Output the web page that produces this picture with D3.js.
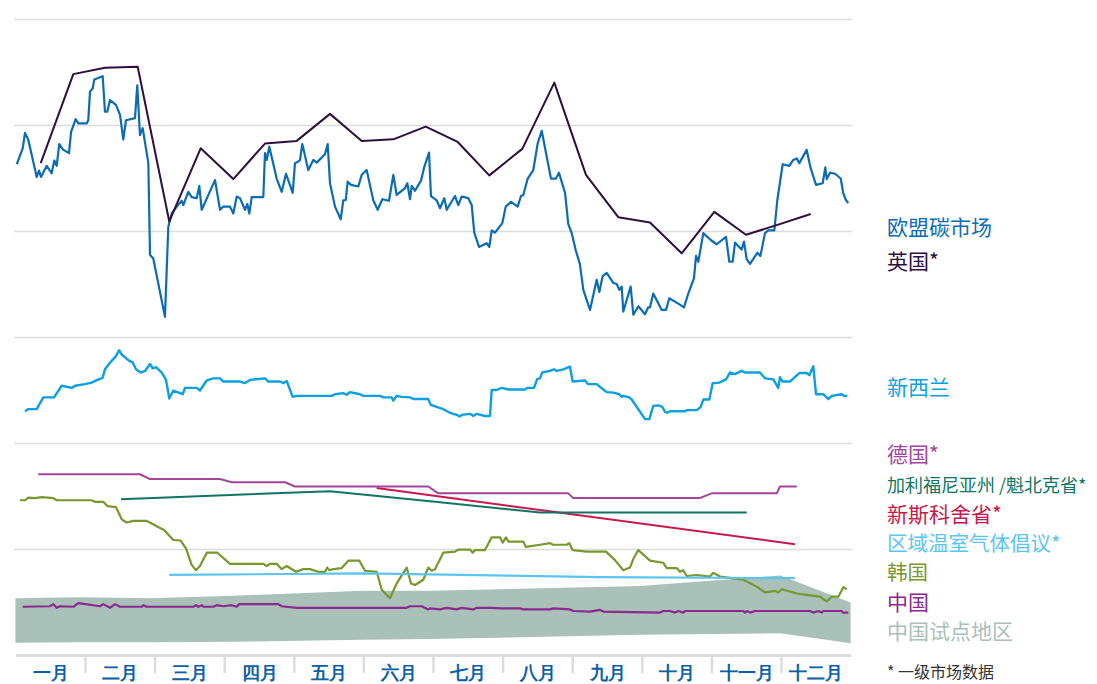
<!DOCTYPE html>
<html>
<head>
<meta charset="utf-8">
<script src="https://cdn.jsdelivr.net/npm/d3@7"></script>
<style>
  body { margin: 0; background: #fff; }
  svg { display: block; font-family: "Noto Sans CJK SC", "Noto Sans", sans-serif; }
  .grid line { stroke: #dcdcdc; stroke-width: 1.5; }
  .grid path { display: none; }
  .xaxis path { stroke: #dcdcdc; stroke-width: 3; }
  .xaxis line { stroke: #dcdcdc; stroke-width: 2.5; }
  .months path, .months line { display: none; }
  .months text { fill: #0b5fa5; font-size: 18px; font-weight: bold; }
</style>
</head>
<body>
<script>
// months on x as fractional month index (0 = start of Jan, 12 = end of Dec)
var monthLabels = ["一月","二月","三月","四月","五月","六月","七月","八月","九月","十月","十一月","十二月"];
var gridValues = [20, 40, 60, 80, 100, 120];

var euETS = [[0.02,92.6],[0.105,95.6],[0.138,98.5],[0.185,97.2],[0.306,90.2],[0.339,91.4],[0.368,90.2],[0.45,92.3],[0.52,90.9],[0.56,93.3],[0.593,92.3],[0.63,96.4],[0.68,95.4],[0.77,94.7],[0.80,98.7],[0.866,101.1],[0.904,100.3],[1.024,100.3],[1.047,100.9],[1.072,106.3],[1.11,106.9],[1.134,108.6],[1.215,109.0],[1.254,109.2],[1.287,102.5],[1.32,102.5],[1.359,104.7],[1.445,103.8],[1.503,101.9],[1.55,97.3],[1.589,100.9],[1.718,101.3],[1.751,107.5],[1.79,98.1],[1.829,99.4],[1.91,92.8],[1.934,75.5],[1.981,74.8],[2.149,63.8],[2.197,80.8],[2.246,83.3],[2.318,84.6],[2.389,85.7],[2.412,84.9],[2.484,87.4],[2.533,86.4],[2.605,86.2],[2.642,88.5],[2.677,84.0],[2.868,89.6],[2.94,84.0],[2.987,84.6],[3.083,84.6],[3.131,83.3],[3.18,86.5],[3.227,86.2],[3.299,84.0],[3.332,85.1],[3.361,83.3],[3.395,86.4],[3.562,86.4],[3.586,94.7],[3.611,93.4],[3.648,95.9],[3.754,89.9],[3.826,87.4],[3.888,90.8],[3.984,87.2],[4.017,92.8],[4.065,93.1],[4.089,93.4],[4.122,96.4],[4.208,91.5],[4.28,93.4],[4.329,92.9],[4.448,94.5],[4.487,96.4],[4.52,89.0],[4.592,84.6],[4.674,82.2],[4.711,85.8],[4.746,85.8],[4.774,89.3],[4.822,88.7],[4.927,88.4],[4.976,90.6],[5.047,91.5],[5.142,85.8],[5.205,84.0],[5.272,86.0],[5.368,85.7],[5.43,90.6],[5.478,86.8],[5.598,88.1],[5.631,89.0],[5.67,86.0],[5.694,88.5],[5.741,87.6],[5.828,89.5],[5.875,92.1],[5.943,94.8],[5.971,86.6],[6.053,85.8],[6.101,84.3],[6.162,86.2],[6.197,84.0],[6.316,86.6],[6.364,84.9],[6.412,86.5],[6.507,86.2],[6.556,84.9],[6.593,79.7],[6.661,77.0],[6.772,77.7],[6.809,77.0],[6.843,80.1],[6.891,79.7],[6.996,81.5],[7.045,84.6],[7.121,85.5],[7.217,84.6],[7.264,86.6],[7.297,86.8],[7.361,89.9],[7.441,91.5],[7.504,96.5],[7.562,98.9],[7.634,94.0],[7.695,89.9],[7.767,89.9],[7.81,91.0],[7.897,87.2],[7.944,81.3],[7.993,79.6],[8.05,76.4],[8.11,73.8],[8.16,68.9],[8.256,65.1],[8.352,70.8],[8.39,68.5],[8.438,71.5],[8.496,72.1],[8.59,70.2],[8.639,70.0],[8.677,68.9],[8.711,69.5],[8.734,64.8],[8.84,69.5],[8.878,64.2],[8.95,65.8],[9.046,64.3],[9.093,65.6],[9.118,65.6],[9.165,68.2],[9.286,65.1],[9.348,65.1],[9.395,67.3],[9.524,66.3],[9.606,65.6],[9.668,68.2],[9.75,71.1],[9.779,75.3],[9.812,74.2],[9.884,79.6],[9.99,78.3],[10.076,77.5],[10.21,78.9],[10.257,74.2],[10.306,74.2],[10.339,77.8],[10.435,76.5],[10.468,78.0],[10.507,74.7],[10.555,73.8],[10.66,75.9],[10.704,75.3],[10.77,79.6],[10.818,80.1],[10.904,80.1],[10.947,85.8],[11.024,92.6],[11.119,92.3],[11.177,93.4],[11.226,93.7],[11.263,92.8],[11.369,95.3],[11.427,91.8],[11.503,88.7],[11.599,89.0],[11.637,92.0],[11.657,89.8],[11.704,91.0],[11.776,90.8],[11.858,89.9],[11.895,87.1],[11.934,85.8],[11.967,85.3]];

var ukETS = [[0.364,92.8],[0.832,109.6],[1.287,110.8],[1.757,111.0],[2.211,81.8],[2.662,95.6],[3.131,89.8],[3.586,96.5],[4.042,97.0],[4.52,102.1],[4.976,97.0],[5.43,97.3],[5.895,99.7],[6.355,96.8],[6.809,90.5],[7.283,95.5],[7.743,108.0],[8.198,90.6],[8.662,82.6],[9.118,81.6],[9.573,75.8],[10.042,83.6],[10.497,79.3],[10.96,81.2],[11.427,83.2]];

var newZealand = [[0.138,46.0],[0.185,46.4],[0.306,46.4],[0.401,48.6],[0.555,48.6],[0.665,50.8],[0.809,50.4],[0.856,50.8],[1.0,51.1],[1.096,51.4],[1.177,51.9],[1.254,52.3],[1.287,53.9],[1.349,55.0],[1.445,56.4],[1.489,57.5],[1.527,56.7],[1.636,55.5],[1.685,55.2],[1.733,53.9],[1.8,53.3],[1.862,53.6],[1.934,54.9],[1.973,54.1],[2.02,54.3],[2.102,53.3],[2.164,51.9],[2.211,48.4],[2.269,49.9],[2.404,49.2],[2.437,50.4],[2.605,50.4],[2.652,49.9],[2.749,51.8],[2.843,52.2],[2.94,52.2],[2.987,51.6],[3.227,51.6],[3.299,51.3],[3.371,51.9],[3.586,52.2],[3.634,51.6],[3.802,51.6],[3.849,51.3],[3.898,51.7],[3.984,48.7],[4.042,48.9],[4.545,48.9],[4.592,49.2],[4.711,49.4],[4.76,49.1],[4.807,49.6],[4.951,49.2],[4.999,48.9],[5.239,48.9],[5.286,48.6],[5.407,48.6],[5.43,48.0],[5.478,48.9],[5.55,48.7],[5.67,48.6],[5.717,48.3],[5.932,48.3],[5.967,47.2],[6.053,46.8],[6.125,46.5],[6.244,45.7],[6.34,45.3],[6.388,45.0],[6.412,45.3],[6.532,45.5],[6.579,45.1],[6.628,45.5],[6.747,45.1],[6.819,45.1],[6.843,50.0],[6.915,50.0],[6.987,50.4],[7.082,50.1],[7.322,50.1],[7.355,50.4],[7.451,50.4],[7.499,52.1],[7.537,52.2],[7.57,53.3],[7.681,53.6],[7.739,53.9],[7.777,53.6],[7.872,53.9],[7.968,54.4],[8.007,51.6],[8.184,51.8],[8.231,51.1],[8.352,51.1],[8.447,50.1],[8.496,49.6],[8.59,49.5],[8.677,49.2],[8.711,48.7],[8.734,48.9],[8.82,48.6],[8.855,48.2],[9.046,44.5],[9.108,44.5],[9.165,47.0],[9.237,47.1],[9.295,46.8],[9.333,45.9],[9.366,45.7],[9.405,46.0],[9.621,46.0],[9.645,46.2],[9.789,46.2],[9.846,46.8],[9.884,48.2],[9.97,48.2],[10.019,51.3],[10.052,51.3],[10.113,51.4],[10.21,52.0],[10.267,53.3],[10.339,53.0],[10.435,53.6],[10.483,53.3],[10.698,53.3],[10.77,52.2],[10.89,52.0],[10.961,50.4],[10.986,52.4],[11.024,51.6],[11.129,51.6],[11.187,52.3],[11.263,53.2],[11.369,53.2],[11.407,52.8],[11.464,54.5],[11.503,49.2],[11.608,49.2],[11.68,48.3],[11.729,48.9],[11.872,49.2],[11.905,48.9],[11.953,48.9]];

var germany = [[0.329,34.1],[1.79,34.1],[1.934,33.2],[2.94,33.2],[3.108,32.6],[3.874,32.6],[4.017,31.8],[5.932,31.8],[6.076,30.5],[7.944,30.5],[8.016,29.6],[9.83,29.6],[10.004,30.5],[10.938,30.5],[10.986,31.8],[11.226,31.8]];

var californiaQuebec = [[1.517,29.4],[4.52,30.9],[6.029,28.9],[7.537,26.9],[10.507,26.9]];

var novaScotia = [[5.191,31.5],[11.2,20.9]];

var rggi = [[2.211,15.1],[4.994,15.4],[8.39,14.7],[11.2,14.5]];

var korea = [[0.066,29.2],[0.138,29.2],[0.185,29.7],[0.282,29.6],[0.378,29.8],[0.545,29.6],[0.593,29.2],[1.096,29.2],[1.144,28.9],[1.263,28.9],[1.32,28.1],[1.445,27.9],[1.527,25.6],[1.599,25.0],[1.694,25.3],[1.886,25.3],[1.973,24.7],[2.03,24.3],[2.135,23.6],[2.269,21.7],[2.375,21.6],[2.451,20.1],[2.533,17.0],[2.595,16.0],[2.652,16.8],[2.749,19.3],[2.901,19.3],[3.083,17.2],[3.131,17.2],[3.562,17.2],[3.611,16.8],[3.658,17.2],[3.754,17.2],[3.826,16.2],[3.898,16.8],[4.032,15.7],[4.136,16.2],[4.233,16.2],[4.352,15.7],[4.448,15.7],[4.481,16.5],[4.51,16.0],[4.568,16.2],[4.688,16.4],[4.783,17.8],[4.941,17.8],[5.023,15.9],[5.191,15.7],[5.263,12.3],[5.382,10.7],[5.478,13.5],[5.622,16.5],[5.684,13.5],[5.741,13.2],[5.861,14.2],[5.932,16.5],[5.981,15.9],[6.029,16.2],[6.148,19.3],[6.316,19.5],[6.364,19.9],[6.532,19.9],[6.571,19.3],[6.603,19.8],[6.747,19.8],[6.843,22.2],[6.963,22.2],[7.002,21.2],[7.049,22.2],[7.082,21.4],[7.297,21.4],[7.336,20.4],[7.537,20.8],[7.681,21.1],[7.728,20.8],[7.921,20.8],[7.958,21.1],[8.007,19.8],[8.208,19.5],[8.486,19.5],[8.615,17.9],[8.734,16.0],[8.83,16.5],[8.878,18.1],[8.95,19.8],[9.118,17.8],[9.309,17.4],[9.358,16.4],[9.501,16.4],[9.549,15.7],[9.596,16.0],[9.645,14.9],[9.789,15.1],[9.98,14.8],[10.027,15.5],[10.124,14.8],[10.292,14.5],[10.458,14.2],[10.651,12.9],[10.77,11.8],[10.914,12.1],[10.961,11.8],[11.01,12.4],[11.226,11.6],[11.392,11.3],[11.56,11.0],[11.657,10.1],[11.729,11.0],[11.824,11.0],[11.895,12.8],[11.944,12.4]];

var china = [[0.105,9.1],[0.497,9.2],[0.545,9.6],[0.593,8.9],[0.641,9.2],[0.832,9.1],[0.904,9.8],[1.215,9.2],[1.263,9.6],[1.359,8.9],[1.431,9.6],[1.503,9.1],[1.815,9.1],[1.838,9.4],[1.886,9.1],[2.556,9.1],[2.595,9.4],[2.628,9.1],[2.677,9.4],[2.7,9.1],[2.843,9.1],[2.892,9.4],[2.987,9.2],[3.108,9.4],[3.18,9.1],[3.217,9.6],[3.777,9.6],[3.826,9.2],[4.042,8.9],[5.622,8.9],[5.67,9.2],[5.838,9.2],[5.932,8.6],[5.957,8.8],[6.101,8.6],[6.197,8.9],[6.34,8.6],[6.412,8.9],[6.579,8.6],[6.628,8.9],[6.843,8.9],[6.987,8.8],[7.25,8.8],[7.297,8.6],[7.681,8.6],[7.728,8.8],[7.968,8.6],[8.016,8.3],[8.256,8.2],[8.4,8.5],[8.447,8.2],[9.261,8.0],[9.309,8.3],[9.405,8.3],[9.477,8.0],[9.524,8.3],[9.596,8.0],[9.621,8.3],[10.458,8.3],[10.483,8.0],[10.507,8.3],[10.555,8.0],[10.626,8.3],[11.417,8.3],[11.464,8.0],[11.537,8.3],[11.586,8.0],[11.608,8.3],[11.872,8.3],[11.895,8.0],[11.967,8.0]];

// China pilot markets: range band
var pilotMonths = [0, 0.93, 1.93, 3.13, 5.0, 5.96, 8.97, 10.99, 12];
var pilotHigh = [10.7, 10.9, 10.7, 11.2, 12.1, 12.1, 13.0, 15.0, 9.9];
var pilotLow = [2.3, 2.4, 2.4, 2.5, 2.9, 3.0, 3.8, 4.1, 2.2];

var legend = [
  {name: "欧盟碳市场", color: "#0b6cb3", y: 228},
  {name: "英国*", color: "#2f0e3f", y: 262},
  {name: "新西兰", color: "#0ca0e0", y: 388},
  {name: "德国*", color: "#a3449b", y: 455},
  {name: "加利福尼亚州 /魁北克省*", color: "#0f7561", y: 486, size: 18},
  {name: "新斯科舍省*", color: "#c8184b", y: 515},
  {name: "区域温室气体倡议*", color: "#5cc4f1", y: 544, size: 20.5},
  {name: "韩国", color: "#76982c", y: 573, size: 20.5},
  {name: "中国", color: "#8b2a8c", y: 603},
  {name: "中国试点地区", color: "#a9c1b9", y: 632}
];

var width = 1097, height = 684;
var x = d3.scaleLinear().domain([0, 12]).range([15.4, 850.6]);
var y = d3.scaleLinear().domain([0, 120]).range([655, 19]);

var svg = d3.select("body").append("svg")
  .attr("width", width)
  .attr("height", height);

// gridlines
svg.append("g")
  .attr("class", "grid")
  .attr("transform", "translate(14,0)")
  .call(d3.axisLeft(y).tickValues(gridValues).tickSize(-838).tickFormat(""));

// pilot band
var pilot = pilotMonths.map(function(m, i){ return {m: m, hi: pilotHigh[i], lo: pilotLow[i]}; });
svg.append("path")
  .datum(pilot)
  .attr("fill", "#a9c1b9")
  .attr("d", d3.area()
    .x(function(d){ return x(d.m); })
    .y0(function(d){ return y(d.lo); })
    .y1(function(d){ return y(d.hi); }));

var line = d3.line()
  .x(function(d){ return x(d[0]); })
  .y(function(d){ return y(d[1]); });

var series = [
  {data: china, color: "#8b2a8c", w: 2.2},
  {data: korea, color: "#76982c", w: 2.2},
  {data: rggi, color: "#5cc4f1", w: 2.2},
  {data: novaScotia, color: "#c8184b", w: 2},
  {data: californiaQuebec, color: "#0f7561", w: 2},
  {data: germany, color: "#a3449b", w: 2},
  {data: newZealand, color: "#0ca0e0", w: 2.4},
  {data: euETS, color: "#0b6cb3", w: 2.2},
  {data: ukETS, color: "#2f0e3f", w: 2}
];

series.forEach(function(s){
  svg.append("path")
    .datum(s.data)
    .attr("fill", "none")
    .attr("stroke", s.color)
    .attr("stroke-width", s.w)
    .attr("stroke-linejoin", "round")
    .attr("d", line);
});

// x axis: month separators
svg.append("g")
  .attr("class", "xaxis")
  .attr("transform", "translate(0,655)")
  .call(d3.axisBottom(x).tickValues(d3.range(1, 12)).tickSize(18).tickSizeOuter(0).tickFormat(""));

// month labels centred in each band
svg.append("g")
  .attr("class", "months")
  .attr("transform", "translate(0,663)")
  .call(d3.axisBottom(x).tickValues(d3.range(0.5, 12, 1)).tickSize(0)
    .tickFormat(function(d, i){ return monthLabels[i]; }));

// legend labels
svg.append("g").selectAll("text")
  .data(legend)
  .enter()
  .append("text")
  .attr("x", 887)
  .attr("y", function(d){ return d.y; })
  .attr("dy", "0.35em")
  .attr("fill", function(d){ return d.color; })
  .style("font-size", function(d){ return (d.size || 21) + "px"; })
  .text(function(d){ return d.name; });

svg.append("text")
  .attr("x", 887)
  .attr("y", 672)
  .attr("dy", "0.35em")
  .attr("fill", "#333")
  .style("font-size", "16px")
  .text("* 一级市场数据");
</script>
</body>
</html>
